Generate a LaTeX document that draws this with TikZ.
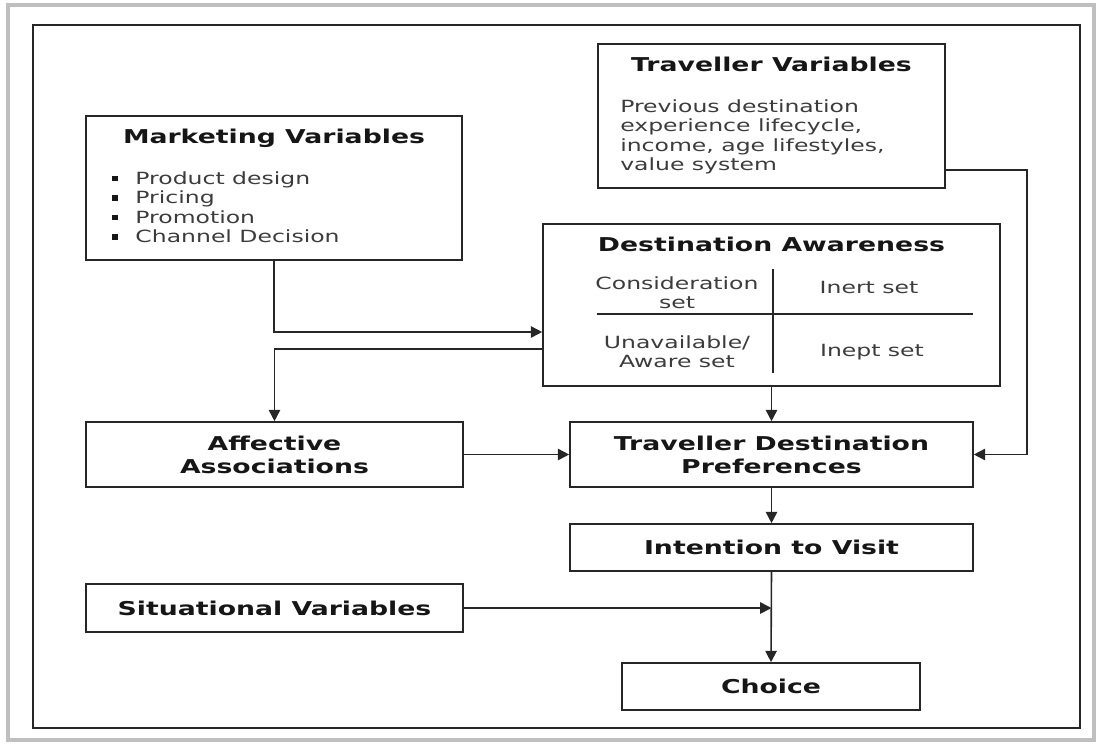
\documentclass[tikz,border=0pt]{standalone}
\usepackage{fontspec}
\setmainfont{DejaVu Sans}[FakeStretch=1.4]
\usetikzlibrary{arrows.meta}
\definecolor{titlec}{HTML}{161616}
\definecolor{bodyc}{HTML}{3C3C3C}
\definecolor{linec}{HTML}{262626}
\tikzset{
  box/.style={draw=linec, line width=1.2pt, inner sep=0pt},
  ttl/.style={font=\fontsize{14.3}{17.25}\selectfont\bfseries, text=titlec, inner sep=0pt},
  txt/.style={font=\fontsize{12.6}{14.5}\selectfont, text=bodyc, inner sep=0pt},
  conn/.style={draw=linec, line width=1.2pt},
  arr/.style={conn, -{Triangle[length=8.5pt,width=8.5pt]}},
}
\newcommand{\bul}{\textcolor{titlec}{\rule[0.17em]{0.33em}{0.33em}}\hspace{1.05em}}
\begin{document}
\begin{tikzpicture}[x=0.75pt,y=-0.75pt]
\useasboundingbox (0,0) rectangle (1097,744);
% frames
\draw[black!25, line width=2.5pt] (8,5) rectangle (1094,740);
\draw[linec, line width=1.4pt] (33,25) rectangle (1080,728);

% Marketing Variables
\node[box, minimum width=282pt, minimum height=108pt] (mv) at (274,188) {};
\node[ttl, anchor=base] (mvt) at (274,143) {Marketing Variables};
\node[txt, anchor=base west] (mv1) at (112,184) {\bul Product design};
\node[txt, anchor=base west] (mv2) at (112,203.5) {\bul Pricing};
\node[txt, anchor=base west] (mv3) at (112,223) {\bul Promotion};
\node[txt, anchor=base west] (mv4) at (112,242.5) {\bul Channel Decision};

% Traveller Variables
\node[box, minimum width=260.25pt, minimum height=108pt] (tv) at (771.5,116) {};
\node[ttl, anchor=base] (tvt) at (771.5,71) {Traveller Variables};
\node[txt, anchor=base west] (tv1) at (620,112) {Previous destination};
\node[txt, anchor=base west] (tv2) at (620,131.5) {experience lifecycle,};
\node[txt, anchor=base west] (tv3) at (620,151) {income, age lifestyles,};
\node[txt, anchor=base west] (tv4) at (620,170.5) {value system};

% Destination Awareness
\node[box, minimum width=342.75pt, minimum height=121.5pt] (da) at (771.5,305) {};
\node[ttl, anchor=base] (dat) at (771.5,251) {Destination Awareness};
\coordinate (dvt) at (773,269);
\coordinate (dvb) at (773,373);
\coordinate (dhl) at (597,314);
\coordinate (dhr) at (973,314);
\draw[conn] (dvt) -- (dvb);
\draw[conn] (dhl) -- (dhr);
\node[txt, anchor=base] (cs1) at (677,289) {Consideration};
\node[txt, anchor=base] (cs2) at (677,308) {set};
\node[txt, anchor=base] (ua1) at (677,348) {Unavailable/};
\node[txt, anchor=base] (ua2) at (677,367) {Aware set};
\node[txt, anchor=base] (inert) at (869,293) {Inert set};
\node[txt, anchor=base] (inept) at (872,356) {Inept set};

% other boxes
\node[box, ttl, minimum width=282.75pt, minimum height=48.75pt, align=center] (aa) at (274.5,454.5) {Affective\\Associations};
\node[box, ttl, minimum width=302.25pt, minimum height=48.75pt, align=center] (tdp) at (771.5,454.5) {Traveller Destination\\Preferences};
\node[box, ttl, minimum width=302.25pt, minimum height=35.25pt] (itv) at (771.5,547.5) {Intention to Visit};
\node[box, ttl, minimum width=282.75pt, minimum height=36pt] (sv) at (274.5,608) {Situational Variables};
\node[box, ttl, minimum width=223.5pt, minimum height=35.25pt] (ch) at (771,686.5) {Choice};

% connectors
\draw[arr] (mv.south) |- (da.west |- 0,332);
\draw[arr] (da.west |- 0,349) -| (aa.north);
\draw[arr] (da.south) -- (tdp.north);
\draw[arr] (aa.east) -- (tdp.west);
\coordinate (tvc) at (1027,170);
\draw[arr] (tv.east |- tvc) -- (tvc) |- (tdp.east);
\draw[arr] (tdp.south) -- (itv.north);
\draw[arr] (itv.south) -- (ch.north);
\draw[arr] (sv.east) -- (sv.east -| itv.south);
\end{tikzpicture}
\end{document}
